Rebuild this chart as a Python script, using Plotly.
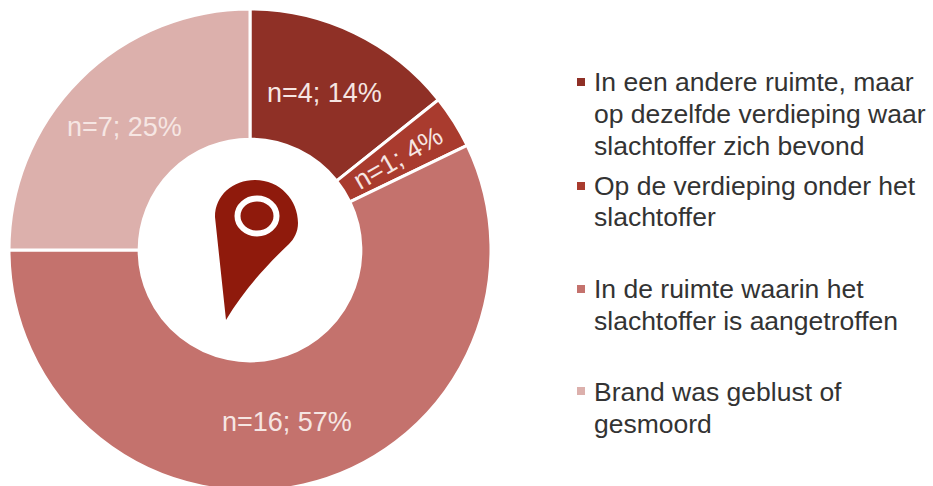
import plotly.graph_objects as go

categories = [
    "In een andere ruimte, maar<br>op dezelfde verdieping waar<br>slachtoffer zich bevond",
    "Op de verdieping onder het<br>slachtoffer",
    "In de ruimte waarin het<br>slachtoffer is aangetroffen",
    "Brand was geblust of<br>gesmoord",
]
counts = [4, 1, 16, 7]
slice_labels = ["n=4; 14%", "n=1; 4%", "n=16; 57%", "n=7; 25%"]
colors = ["#8f3026", "#a93b2e", "#c4726d", "#dcb0ac"]

W, H = 933, 492
cx, cy, r = 250, 250, 241


def px(x):
    return x / W


def py(y):
    return 1 - y / H


fig = go.Figure(go.Pie(
    labels=[c.replace("<br>", " ") for c in categories],
    values=counts,
    sort=False,
    direction="clockwise",
    rotation=0,
    hole=0.46,
    textinfo="none",
    hoverinfo="label+value+percent",
    marker=dict(colors=colors, line=dict(color="white", width=3)),
    domain=dict(x=[px(cx - r), px(cx + r)], y=[py(cy + r), py(cy - r)]),
    showlegend=False,
))

annotations = []
label_pos = [(324, 93, 0), (398, 158, -30), (287, 422, 0), (124, 127, 0)]
for text, (x, y, angle) in zip(slice_labels, label_pos):
    annotations.append(dict(
        x=px(x), y=py(y), xref="paper", yref="paper", text=text, showarrow=False,
        textangle=angle, xanchor="center", yanchor="middle",
        font=dict(family="Liberation Sans", size=27 if angle == 0 else 26.5, color="#f6e6e3"),
    ))

legend_line_y = [[82, 114, 146], [186, 217], [289, 321], [392, 424]]
marker_y = [82, 186, 289, 391]
shapes = []
for text, ys, my, color in zip(categories, legend_line_y, marker_y, colors):
    for line, y in zip(text.split("<br>"), ys):
        annotations.append(dict(
            x=px(592), y=py(y), xref="paper", yref="paper", text=line, showarrow=False,
            xanchor="left", yanchor="middle", align="left",
            font=dict(family="Liberation Sans", size=26.5, color="#333333"),
        ))
    shapes.append(dict(type="rect", xref="paper", yref="paper", line_width=0, fillcolor=color,
                       x0=px(577), x1=px(585), y0=py(my + 4), y1=py(my - 4)))

# location pin icon in the centre of the ring
pin = (
    f"M {px(226)} {py(320)} "
    f"L {px(215)} {py(217)} "
    f"C {px(215)} {py(195)} {px(233)} {py(180)} {px(255)} {py(180)} "
    f"C {px(280)} {py(180)} {px(298)} {py(200)} {px(298)} {py(223)} "
    f"C {px(298)} {py(232)} {px(294)} {py(239)} {px(289)} {py(244)} "
    f"C {px(270)} {py(262)} {px(245)} {py(288)} {px(226)} {py(320)} Z"
)
shapes.append(dict(type="path", xref="paper", yref="paper", path=pin, fillcolor="#8f1a0c", line_width=0))
shapes.append(dict(type="circle", xref="paper", yref="paper", fillcolor="#8f1a0c",
                   line=dict(color="white", width=6),
                   x0=px(237.5), x1=px(276.5), y0=py(233.5), y1=py(198.5)))

fig.update_layout(
    width=W, height=H,
    margin=dict(l=0, r=0, t=0, b=0),
    paper_bgcolor="white",
    annotations=annotations,
    shapes=shapes,
)
fig.write_html(
    "out.html",
    config={"displayModeBar": False},
    post_script="document.documentElement.style.overflow='hidden';document.body.style.overflow='hidden';document.body.style.margin='0';",
)
